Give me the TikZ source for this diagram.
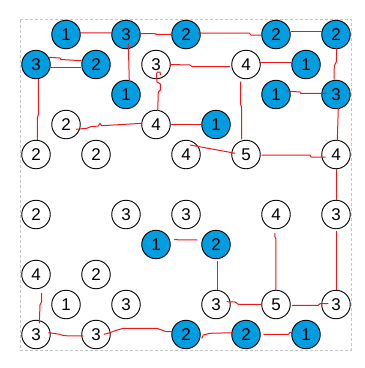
\documentclass[tikz,border=0pt]{standalone}
\usepackage{fontspec}
\setmainfont{Liberation Sans}
\definecolor{fillblue}{RGB}{0,158,224}
\definecolor{linered}{RGB}{238,24,24}
\begin{document}
\begin{tikzpicture}[x=1pt,y=-1pt,
  cell/.style={circle,draw=black,line width=0.9pt,minimum size=28.5pt,inner sep=0pt,font=\fontsize{17}{17}\selectfont},
  open/.style={cell,fill=white},
  full/.style={cell,fill=fillblue},
  link/.style={draw=linered,line width=1pt,line join=round}]
\useasboundingbox (0,0) rectangle (365,368);
\draw[gray!45,dash pattern=on 3pt off 2pt] (20.5,19.5) rectangle (351,350);
% filled circles
\foreach \c/\r/\t in {1/0/1,3/0/3,5/0/2,8/0/2,10/0/2,0/1/3,2/1/2,9/1/1,3/2/1,8/2/1,10/2/3,6/3/1,4/7/1,6/7/2,5/10/2,7/10/2,9/10/1}
  \node[full] (c\c r\r) at ({36+30*\c},{34.5+30*\r}) {\t};
% open circles
\foreach \c/\r/\t in {4/1/3,7/1/4,1/3/2,4/3/4,0/4/2,2/4/2,5/4/4,7/4/5,10/4/4,0/6/2,3/6/3,5/6/3,8/6/4,10/6/3,0/8/4,2/8/2,1/9/1,3/9/3,6/9/3,8/9/5,10/9/3,0/10/3,2/10/3}
  \node[open] (c\c r\r) at ({36+30*\c},{34.5+30*\r}) {\t};
% connectors
\draw[link] ([shift={(14,-1.7)}]c1r0.center) -- ([shift={(-14,-1.5)}]c3r0.center);
\draw[link] ([shift={(14,-1)}]c3r0.center) -- (155,33.5) -- (156,34.3) -- ([shift={(-14,-0.2)}]c5r0.center);
\draw[link] ([shift={(12,-1.5)}]c5r0.center) -- (249,33) -- (251,35) -- ([shift={(-14,0.5)}]c8r0.center);
\draw[link] ([shift={(15,-2.8)}]c8r0.center) -- ([shift={(-14,-2.8)}]c10r0.center);
\draw[link] ([shift={(2.3,9)}]c3r0.center) -- ([shift={(3.3,-13.5)}]c3r2.center);
\draw[link] ([shift={(13,-7.2)}]c0r1.center) -- (60,58) -- (61,59.5) -- ([shift={(-14.3,-3.8)}]c2r1.center);
\draw[link] ([shift={(13,2.5)}]c0r1.center) -- ([shift={(-15,2.5)}]c2r1.center);
\draw[link] ([shift={(2.3,14.5)}]c0r1.center) -- (38.3,115) -- (37.5,117) -- ([shift={(1.5,-14.5)}]c0r4.center);
\draw[link] ([shift={(14,0)}]c4r1.center) -- (190,65) -- (192,66.7) -- ([shift={(-16,2.2)}]c7r1.center);
\draw[link] ([shift={(13,-2.2)}]c7r1.center) -- ([shift={(-15,-2.2)}]c9r1.center);
\draw[link] ([shift={(1.7,-13.5)}]c4r3.center) -- (158.3,92) -- (160.5,90) -- (160.3,84) -- (157,82) -- (156.5,74) -- (157.5,72) -- (160,72) -- ([shift={(4.5,10.5)}]c4r1.center);
\draw[link] ([shift={(10,4.8)}]c1r3.center) -- (86.7,128.3) -- (90.7,126.7) -- (98.3,126) -- (100,123.5) -- (101.7,125.7) -- (125,124.3) -- ([shift={(-14.3,-1.2)}]c4r3.center);
\draw[link] ([shift={(15,-0.5)}]c4r3.center) -- ([shift={(-14.5,-0.5)}]c6r3.center);
\draw[link] ([shift={(-5.3,17.2)}]c7r1.center) -- (240.7,105) -- (241.7,107) -- ([shift={(-4.3,-15.5)}]c7r4.center);
\draw[link] ([shift={(4,-9.5)}]c5r4.center) -- (230,152.3) -- ([shift={(-11,-1.2)}]c7r4.center);
\draw[link] ([shift={(15.7,0.5)}]c7r4.center) -- (310,155) -- (311,157) -- ([shift={(-10.3,2.5)}]c10r4.center);
\draw[link] ([shift={(0.7,13.5)}]c10r0.center) -- (336.3,62) -- (334.3,66) -- ([shift={(-2,-15)}]c10r2.center);
\draw[link] ([shift={(10.7,-3.5)}]c8r2.center) -- (300,92) -- (300.5,93.3) -- ([shift={(-9.3,-1.2)}]c10r2.center);
\draw[link] ([shift={(2.3,13.5)}]c10r2.center) -- ([shift={(1.3,-13.5)}]c10r4.center);
\draw[link] ([shift={(0.7,14.5)}]c10r4.center) -- ([shift={(0.7,-14.5)}]c10r6.center);
\draw[link] ([shift={(0.7,16.5)}]c10r6.center) -- ([shift={(0.7,-14.5)}]c10r9.center);
\draw[link] ([shift={(-1,18.5)}]c8r6.center) -- (275,237) -- (276,239) -- ([shift={(0,-14)}]c8r9.center);
\draw[link] ([shift={(18,-4.8)}]c4r7.center) -- ([shift={(-18.7,-4.5)}]c6r7.center);
\draw[link] ([shift={(1.3,16.8)}]c6r7.center) -- ([shift={(1.3,-14.8)}]c6r9.center);
\draw[link] ([shift={(10.7,-2.8)}]c6r9.center) -- (235,302) -- (238.3,304.3) -- ([shift={(-14.3,-0.2)}]c8r9.center);
\draw[link] ([shift={(16,1)}]c8r9.center) -- (318.3,305.3) -- (320,303.7) -- ([shift={(-7.7,-0.8)}]c10r9.center);
\draw[link] ([shift={(5.5,18.5)}]c0r8.center) -- (41.7,301.7) -- (40,305) -- ([shift={(3.3,-11.2)}]c0r10.center);
\draw[link] ([shift={(12.3,-1.8)}]c0r10.center) -- (60,334.3) -- (63.3,335.7) -- ([shift={(-12.7,1.5)}]c2r10.center);
\draw[link] ([shift={(8,-0.2)}]c2r10.center) -- (110,332.7) -- (115,330.7) -- (123.3,328.3) -- (156.7,328.3) -- (166.7,331.7) -- ([shift={(-13.3,-2.8)}]c5r10.center);
\draw[link] ([shift={(15.7,3.8)}]c5r10.center) -- (203.3,335) -- (210,333.3) -- ([shift={(-12.7,-1.8)}]c7r10.center);
\draw[link] ([shift={(17.3,-0.2)}]c7r10.center) -- (288.3,334.3) -- (290,332.3) -- ([shift={(-14.3,-2.2)}]c9r10.center);
\end{tikzpicture}
\end{document}
